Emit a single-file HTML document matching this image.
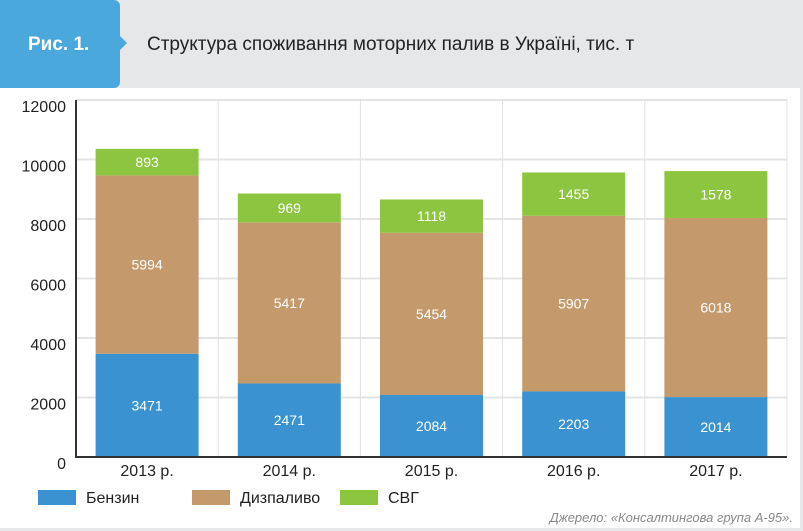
<!DOCTYPE html>
<html><head><meta charset="utf-8"><style>
body{margin:0;width:803px;height:531px;overflow:hidden;background:#fff;font-family:"Liberation Sans",sans-serif}
#frame{position:absolute;left:0;top:0;width:800px;height:528px;border-right:3px solid #e6e7e9;border-bottom:3px solid #e6e7e9;box-sizing:content-box}
#head{position:absolute;left:0;top:0;width:803px;height:88px;background:#e6e7e9}
#tab{position:absolute;left:0;top:0;width:120px;height:88px;background:#4ba8dd;border-radius:0 6px 6px 0}
#arrow{position:absolute;left:119px;top:35px;width:0;height:0;border-top:8px solid transparent;border-bottom:8px solid transparent;border-left:8px solid #4ba8dd}
#tabtext{position:absolute;left:28px;top:34px;color:#fff;font-weight:bold;font-size:19px}
#title{position:absolute;left:147px;top:34px;color:#222;font-size:19px}
#src{position:absolute;right:10px;top:510px;color:#888;font-style:italic;font-size:13px}
</style></head><body>
<div id="frame"></div>
<div id="head"></div>
<div id="tab"></div>
<div id="arrow"></div>
<div id="tabtext">Рис. 1.</div>
<div id="title">Структура споживання моторних палив в Україні, тис. т</div>
<svg id="chart" width="803" height="531" style="position:absolute;left:0;top:0"></svg>
<div id="src">Джерело: «Консалтингова група А-95».</div>
<script>
const categories=["2013 р.","2014 р.","2015 р.","2016 р.","2017 р."];
const benzin=[3471,2471,2084,2203,2014];
const diesel=[5994,5417,5454,5907,6018];
const lpg=[893,969,1118,1455,1578];
const yTicks=[0,2000,4000,6000,8000,10000,12000];
const seriesNames=["Бензин","Дизпаливо","СВГ"];
const colors=["#3a93d0","#c49a6c","#8cc540"];
const NS="http://www.w3.org/2000/svg";
const svg=document.getElementById('chart');
const x0=76,x1=787,yZero=457,yTop=100,yMax=12000;
const bw=(x1-x0)/categories.length;
const y=v=>yZero-(v/yMax)*(yZero-yTop);
function mk(t,a,txt){const e=document.createElementNS(NS,t);for(const k in a)e.setAttribute(k,a[k]);if(txt!==undefined)e.textContent=txt;svg.appendChild(e);return e;}
yTicks.forEach(t=>{
 const g=mk('line',{x1:x0,x2:x1,y1:y(t),y2:y(t),stroke:'#e4e4e4','stroke-width':2});
 
 
 const l=mk('text',{x:66,y:y(t)+12,'text-anchor':'end','font-size':16,fill:'#222'},t);
 
 
});
for(let i=1;i<=categories.length;i++){
 const g=mk('line',{x1:x0+i*bw,x2:x0+i*bw,y1:yTop,y2:yZero,stroke:'#e0e0e0','stroke-width':1});
 
 
}
const series=[benzin,diesel,lpg];
categories.forEach((c,i)=>{
 const cx=x0+bw*(i+0.5);let base=0;
 series.forEach((s,j)=>{
  const v=s[i];
  const r=mk('rect',{x:cx-51.5,y:y(base+v),width:103,height:y(base)-y(base+v),fill:colors[j]});
  
  
  const t=mk('text',{x:cx,y:(y(base)+y(base+v))/2+5,'text-anchor':'middle','font-size':14,fill:'#fff'},v);
  
  
  base+=v;
 });
 const xl=mk('text',{x:cx,y:476,'text-anchor':'middle','font-size':16,fill:'#222'},c);
 
 
});
const ax=mk('line',{x1:x0,x2:x0,y1:yTop,y2:yZero,stroke:'#333','stroke-width':2});


const bx=mk('line',{x1:x0-1,x2:x1,y1:yZero,y2:yZero,stroke:'#333','stroke-width':2});


const lx=[38,192,340];
seriesNames.forEach((n,j)=>{
 const r=mk('rect',{x:lx[j],y:490,width:38,height:15,fill:colors[j]});
 
 
 const t=mk('text',{x:lx[j]+48,y:503,'font-size':16,fill:'#222'},n);
 
 
});
</script>
</body></html>
